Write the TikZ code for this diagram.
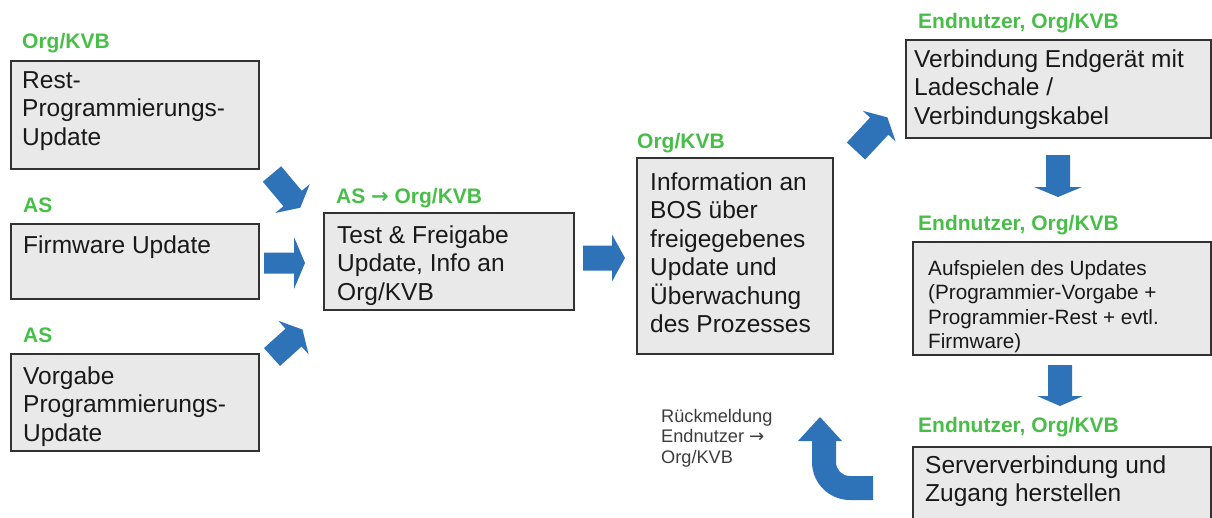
\documentclass[tikz,border=0pt]{standalone}
\usepackage{fontspec}
\setmainfont{Liberation Sans}
\newfontfamily\symfont{DejaVu Sans}
\definecolor{boxfill}{RGB}{233,233,233}
\definecolor{boxline}{RGB}{50,50,50}
\definecolor{lblgreen}{RGB}{72,190,72}
\definecolor{arrblue}{RGB}{46,114,184}
\definecolor{txtdark}{RGB}{25,25,25}
\definecolor{notegray}{RGB}{60,60,60}
\newcommand{\blockarrow}[7]{\fill[arrblue, shift={(#1,#2)}, rotate=#3] (0,-#5/2) -- (#4-#7,-#5/2) -- (#4-#7,-#6/2) -- (#4,0) -- (#4-#7,#6/2) -- (#4-#7,#5/2) -- (0,#5/2) -- cycle;}
\tikzset{
  procbox/.style={draw=boxline, fill=boxfill, line width=1.6pt, rectangle, inner sep=0pt, anchor=north west},
  boxtext/.style={anchor=base west, inner sep=0pt, align=left, text=txtdark, font=\fontsize{24.5}{28.5}\selectfont},
  smalltext/.style={anchor=base west, inner sep=0pt, align=left, text=txtdark, font=\fontsize{20.7}{24.5}\selectfont},
  lbl/.style={anchor=base west, inner sep=0pt, text=lblgreen, font=\fontsize{21}{24}\selectfont\bfseries},
  note/.style={anchor=base west, inner sep=0pt, align=left, text=notegray, font=\fontsize{18.2}{20.5}\selectfont}
}
\begin{document}
\begin{tikzpicture}[x=1pt,y=-1pt]
\useasboundingbox (0,0) rectangle (1212,517);
\clip (0,0) rectangle (1212,517);
% boxes
\node[procbox, minimum width=248, minimum height=108] (b1) at (10,60) {};
\node[procbox, minimum width=248, minimum height=75] (b2) at (10,223) {};
\node[procbox, minimum width=248, minimum height=97] (b3) at (10,353) {};
\node[procbox, minimum width=250, minimum height=97] (b4) at (323,212) {};
\node[procbox, minimum width=196, minimum height=196] (b5) at (636,157) {};
\node[procbox, minimum width=305, minimum height=98] (b6) at (905,39) {};
\node[procbox, minimum width=298, minimum height=113] (b7) at (912,241) {};
\node[procbox, minimum width=298, minimum height=90] (b8) at (912,446) {};
% box texts (anchor = baseline of last line)
\node[boxtext] (t1) at (22,145) {Rest-\\Programmierungs-\\Update};
\node[boxtext] (t2) at (23,253) {Firmware Update};
\node[boxtext] (t3) at (23,441) {Vorgabe\\Programmierungs-\\Update};
\node[boxtext] (t4) at (337,300) {Test \& Freigabe\\Update, Info an\\Org/KVB};
\node[boxtext] (t5) at (650,332.5) {Information an\\BOS über\\freigegebenes\\Update und\\Überwachung\\des Prozesses};
\node[boxtext] (t6) at (914,124) {Verbindung Endgerät mit\\Ladeschale /\\Verbindungskabel};
\node[smalltext] (t7) at (928,348.5) {Aufspielen des Updates\\(Programmier-Vorgabe +\\Programmier-Rest + evtl.\\Firmware)};
\node[boxtext] (t8) at (925,501.5) {Serververbindung und\\Zugang herstellen};
% green labels
\node[lbl] (l1) at (22,48) {Org/KVB};
\node[lbl] (l2) at (23,212) {AS};
\node[lbl] (l3) at (23,342) {AS};
\node[lbl] (l4) at (336,203) {AS {\symfont\bfseries →} Org/KVB};
\node[lbl] (l5) at (637,148) {Org/KVB};
\node[lbl] (l6) at (918,28) {Endnutzer, Org/KVB};
\node[lbl] (l7) at (918,230) {Endnutzer, Org/KVB};
\node[lbl] (l8) at (918,432) {Endnutzer, Org/KVB};
% note
\node[note] (n1) at (661,463) {Rückmeldung\\Endnutzer {\symfont →}\\Org/KVB};
% block arrows
\blockarrow{272}{174}{-50}{44}{24}{45}{12}
\blockarrow{264}{263}{0}{41}{21}{52}{11}
\blockarrow{272}{357}{42}{41}{24}{45}{12}
\blockarrow{583}{258}{0}{42}{25}{47}{13}
\blockarrow{856}{151}{47}{46}{25}{45}{12}
\blockarrow{1058}{155}{-90}{42}{24}{48}{10}
\blockarrow{1060}{365}{-90}{41}{24}{46}{10}
% curved return arrow
\fill[arrblue] (820,417) -- (842,441) -- (836,441) -- (836,462)
  .. controls (836,470) and (842,476) .. (850,476) -- (873,476) -- (873,500) -- (850,500)
  .. controls (829,500) and (812,483) .. (812,462) -- (812,441) -- (798,441) -- cycle;
\end{tikzpicture}
\end{document}
